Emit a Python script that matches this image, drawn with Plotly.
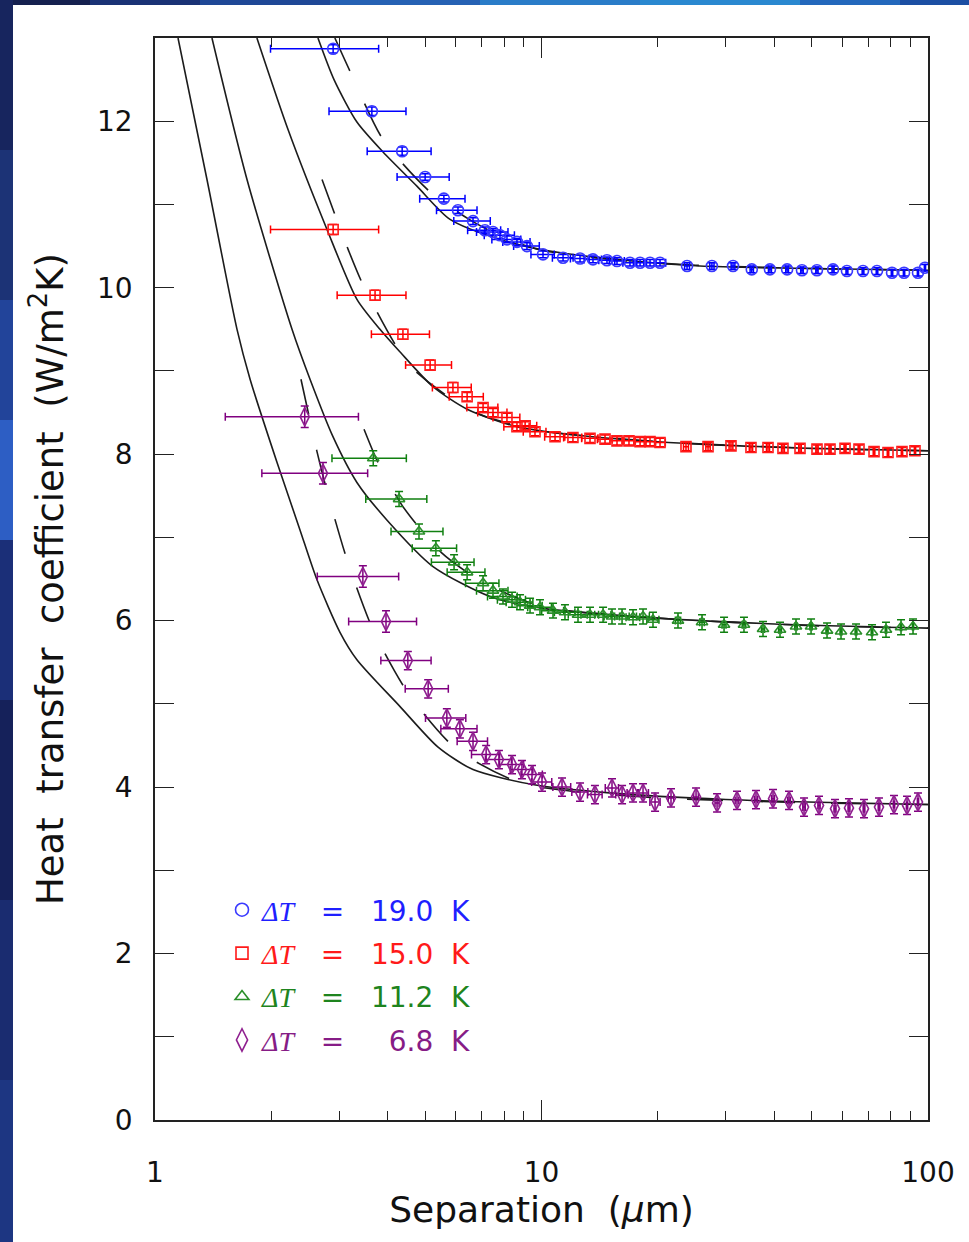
import plotly.graph_objects as go

# ---------------- data ----------------
# Delta T = 19.0 K  (blue circles)
x_b = [2.89, 3.64, 4.36, 5.00, 5.59, 6.08, 6.65, 7.14, 7.49, 7.81, 8.14, 8.64, 9.17, 10.09,
       11.37, 12.58, 13.59, 14.77, 15.68, 16.94, 17.99, 19.09, 20.26, 23.8, 27.6, 31.3, 35.0,
       39.0, 43.2, 47.2, 51.6, 56.8, 61.7, 67.9, 73.8, 80.7, 86.7, 94.2, 98.2]
y_b = [12.87, 12.12, 11.64, 11.33, 11.07, 10.93, 10.80, 10.69, 10.67, 10.63, 10.58, 10.55, 10.50,
       10.40, 10.36, 10.35, 10.34, 10.33, 10.32, 10.30, 10.30, 10.30, 10.30, 10.26, 10.26, 10.26,
       10.22, 10.22, 10.22, 10.21, 10.21, 10.22, 10.20, 10.20, 10.20, 10.18, 10.18, 10.18, 10.24]
xe_b = [0.90, 0.82, 0.82, 0.77, 0.75, 0.73, 0.72] + [0.70] * 16 + [0.35] * 16
ye_b = [0.05] * 3 + [0.04] * 36

# Delta T = 15.0 K  (red squares)
x_r = [2.89, 3.71, 4.38, 5.15, 5.90, 6.42, 7.06, 7.49, 8.14, 8.64, 9.07, 9.62, 10.84, 12.06,
       13.35, 14.60, 15.68, 16.84, 17.99, 19.09, 20.26, 23.65, 26.97, 30.92, 34.83, 38.55, 42.15,
       46.65, 51.62, 55.78, 61.00, 66.30, 72.50, 78.80, 85.64, 92.55]
y_r = [10.70, 9.91, 9.44, 9.07, 8.80, 8.69, 8.56, 8.50, 8.44, 8.33, 8.34, 8.27, 8.21, 8.20, 8.19,
       8.18, 8.16, 8.16, 8.15, 8.15, 8.14, 8.09, 8.09, 8.10, 8.08, 8.08, 8.07, 8.07, 8.06, 8.06,
       8.07, 8.06, 8.03, 8.02, 8.03, 8.04]
xe_r = [0.90, 0.75, 0.75, 0.70, 0.68, 0.65, 0.65] + [0.65] * 14 + [0.35] * 15
ye_r = [0.06] * 5 + [0.05] * 31

# Delta T = 11.2 K  (green triangles)
x_g = [3.67, 4.28, 4.82, 5.33, 5.94, 6.42, 7.06, 7.49, 7.95, 8.39, 8.80, 9.34, 9.91, 10.71, 11.50,
       12.43, 13.35, 14.43, 15.22, 16.16, 17.25, 18.31, 19.43, 22.55, 26.02, 29.67, 33.41, 37.42,
       41.41, 45.55, 49.82, 54.80, 59.56, 65.13, 71.64, 77.86, 85.15, 91.47]
y_g = [7.95, 7.46, 7.07, 6.87, 6.70, 6.58, 6.45, 6.36, 6.29, 6.25, 6.22, 6.18, 6.16, 6.12, 6.10,
       6.07, 6.07, 6.07, 6.05, 6.05, 6.04, 6.05, 6.01, 6.00, 5.98, 5.95, 5.95, 5.90, 5.89, 5.93,
       5.93, 5.88, 5.87, 5.87, 5.86, 5.89, 5.92, 5.93]
xe_g = [0.80, 0.77, 0.74, 0.70, 0.75, 0.72, 0.70] + [0.70] * 16 + [0.35] * 15
ye_g = [0.09] * 38

# Delta T = 6.8 K  (purple diamonds)
x_p = [2.44, 2.72, 3.45, 3.96, 4.51, 5.09, 5.69, 6.15, 6.65, 7.19, 7.76, 8.39, 8.90, 9.45, 10.03,
       11.30, 12.58, 13.75, 15.22, 16.16, 17.25, 18.31, 19.67, 21.63, 25.11, 28.46, 32.05, 35.89,
       39.72, 43.69, 47.78, 52.24, 57.46, 62.45, 68.30, 74.68, 81.66, 88.25, 94.21]
y_p = [8.45, 7.77, 6.53, 5.99, 5.52, 5.18, 4.83, 4.70, 4.55, 4.39, 4.33, 4.27, 4.21, 4.15, 4.06,
       4.00, 3.94, 3.91, 3.99, 3.91, 3.93, 3.93, 3.82, 3.87, 3.88, 3.81, 3.84, 3.85, 3.86, 3.84,
       3.76, 3.78, 3.74, 3.75, 3.74, 3.76, 3.79, 3.78, 3.82]
xe_p = [0.92, 0.83, 0.82, 0.79, 0.67, 0.65, 0.68, 0.66, 0.60, 0.60] + [0.60] * 13 + [0.35] * 16
ye_p = [0.13] * 4 + [0.11] * 35

# theory curves, solid
sb_x = [2.64, 2.905, 3.33, 3.89, 4.76, 5.80, 7.81, 10.5, 17.2, 25.7, 50, 100]
sb_y = [13.0, 12.50, 11.99, 11.63, 11.22, 10.82, 10.58, 10.44, 10.32, 10.26, 10.23, 10.21]
sr_x = [1.835, 2.209, 2.786, 3.33, 3.82, 4.30, 5.24, 6.42, 8.64, 14.2, 25.7, 50, 100]
sr_y = [13.0, 11.90, 10.70, 9.86, 9.50, 9.23, 8.81, 8.54, 8.33, 8.20, 8.12, 8.07, 8.04]
sg_x = [1.404, 1.730, 2.262, 2.518, 2.887, 3.33, 3.98, 5.24, 7.36, 10, 20, 40, 100]
sg_y = [13.0, 11.30, 9.50, 8.90, 8.21, 7.66, 7.21, 6.65, 6.29, 6.15, 6.03, 5.96, 5.91]
sp_x = [1.147, 1.363, 1.630, 1.762, 2.069, 2.372, 2.625, 3.01, 3.33, 4.30, 5.40, 6.65, 9.5,
        15, 30, 60, 100]
sp_y = [13.0, 11.30, 9.50, 8.90, 7.90, 7.09, 6.49, 5.86, 5.53, 4.97, 4.48, 4.21, 4.03,
        3.93, 3.85, 3.81, 3.79]

# theory curves, dashed
db_x = [2.92, 3.196, 3.89, 5.15, 6.5, 8.0, 10, 15, 25, 50, 100]
db_y = [13.0, 12.60, 11.78, 11.15, 10.82, 10.60, 10.45, 10.34, 10.27, 10.23, 10.21]
dr_x = [2.705, 2.92, 3.16, 3.45, 4.49, 5.5, 7, 10, 20, 50, 100]
dr_y = [11.30, 10.88, 10.46, 10.04, 9.10, 8.75, 8.47, 8.28, 8.15, 8.07, 8.04]
dg_x = [3.474, 3.776, 4.38, 5.5, 7, 10, 20, 50, 100]
dg_y = [8.30, 7.90, 7.37, 6.82, 6.47, 6.17, 6.03, 5.94, 5.91]
dp_x = [2.386, 2.625, 2.77, 3.14, 3.665, 4.515, 6.04, 8.8, 12, 20, 50, 100]
dp_y = [8.90, 8.03, 7.60, 6.73, 5.89, 5.13, 4.45, 4.05, 3.95, 3.87, 3.81, 3.79]

labels = ["19.0", "15.0", "11.2", "\u20076.8"]
x_ticks = [1, 10, 100]
x_minor = [2, 3, 4, 5, 6, 7, 8, 9, 20, 30, 40, 50, 60, 70, 80, 90]
y_ticks = [0, 2, 4, 6, 8, 10, 12]
y_minor = [1, 3, 5, 7, 9, 11]

# ---------------- figure ----------------
fig = go.Figure()

LINE = "#1c1c1c"
for cx, cy in [(sb_x, sb_y), (sr_x, sr_y), (sg_x, sg_y), (sp_x, sp_y)]:
    fig.add_trace(go.Scatter(x=cx, y=cy, mode="lines", showlegend=False, hoverinfo="skip",
                             line=dict(color=LINE, width=1.6, shape="spline", smoothing=0.7)))
for cx, cy in [(db_x, db_y), (dr_x, dr_y), (dg_x, dg_y), (dp_x, dp_y)]:
    fig.add_trace(go.Scatter(x=cx, y=cy, mode="lines", showlegend=False, hoverinfo="skip",
                             line=dict(color=LINE, width=1.6, shape="spline", smoothing=0.7,
                                       dash="36px,36px")))

series = [
    (x_b, y_b, xe_b, ye_b, "circle-open", 11, 13, "#3a3aff", "#0000ff", "#1f1fff", labels[0]),
    (x_r, y_r, xe_r, ye_r, "square-open", 10, 12, "#ff1a1a", "#ff0000", "#ff1a1a", labels[1]),
    (x_g, y_g, xe_g, ye_g, "triangle-up-open", 10, 12, "#2a8f2a", "#108010", "#1e841e", labels[2]),
    (x_p, y_p, xe_p, ye_p, "diamond-tall-open", 13, 16, "#8f1f8f", "#800080", "#861c86", labels[3]),
]
SP3 = "\u00a0\u00a0\u00a0"
for i, (sx, sy, sxe, sye, sym, size, lsize, mc, ec, tc, lab) in enumerate(series):
    fig.add_trace(go.Scatter(
        x=sx, y=sy, mode="markers", showlegend=False, hoverinfo="x+y",
        marker=dict(symbol=sym, size=size, color=mc, line=dict(width=1.6, color=mc)),
        error_x=dict(type="data", array=sxe, color=ec, thickness=1.5, width=4),
        error_y=dict(type="data", array=sye, color=ec, thickness=1.5, width=4),
    ))
    name = ("<span style=\"color:%s\"><span style=\"font-family:Liberation Serif\"><i>\u0394T</i></span>"
            "%s=%s%s\u00a0\u00a0K</span>") % (tc, SP3, SP3, lab)
    # legend entry for the series
    fig.add_trace(go.Scatter(
        x=[None], y=[None], mode="markers", name=name, legendgroup="g%d" % i,
        marker=dict(symbol=sym, size=lsize, color=mc, line=dict(width=1.6, color=mc)),
    ))

# slide background strips (decoration)
W, H = 969, 1242
L, R, T, B = 155, 41, 38, 122
pw, ph = W - L - R, H - T - B
def px2paper(px, py):
    return (px - L) / pw, (H - B - py) / ph

shapes = []
top_cols = [(0, 90, "#15214f"), (90, 200, "#1a3275"), (200, 330, "#1f4896"), (330, 480, "#2662b4"),
            (480, 640, "#2a7cc8"), (640, 800, "#2a88d0"), (800, 900, "#2368bc"), (900, 969, "#1c4fa3")]
for a, b, c in top_cols:
    x0, y0 = px2paper(a, 5)
    x1, y1 = px2paper(b, 0)
    shapes.append(dict(type="rect", xref="paper", yref="paper", x0=x0, x1=x1, y0=y0, y1=y1,
                       fillcolor=c, line=dict(width=0), layer="below"))
left_cols = [(0, 150, "#17255e"), (150, 300, "#1c3376"), (300, 420, "#22449a"), (420, 540, "#2d5ec4"),
             (540, 700, "#1b2f78"), (700, 900, "#15215a"), (900, 1080, "#1a2c70"), (1080, 1242, "#1d3682")]
for a, b, c in left_cols:
    x0, y0 = px2paper(0, b)
    x1, y1 = px2paper(13, a)
    shapes.append(dict(type="rect", xref="paper", yref="paper", x0=x0, x1=x1, y0=y0, y1=y1,
                       fillcolor=c, line=dict(width=0), layer="below"))

FONT = "DejaVu Sans"
AX = "#222222"
lx, ly = px2paper(222, 885)
fig.update_layout(
    width=W, height=H,
    margin=dict(l=L, r=R, t=T, b=B, autoexpand=False),
    paper_bgcolor="white", plot_bgcolor="white",
    font=dict(family=FONT, color="#111111"),
    shapes=shapes,
    showlegend=True,
    legend=dict(x=lx, y=ly, xanchor="left", yanchor="top", bgcolor="rgba(0,0,0,0)",
                font=dict(family=FONT, size=28), traceorder="grouped", tracegroupgap=4,
                itemsizing="trace"),
    xaxis=dict(type="log", range=[0, 2], tickmode="array", tickvals=x_ticks,
               ticktext=[str(v) for v in x_ticks], ticks="inside", ticklen=20, tickwidth=1.4,
               tickcolor=AX, showline=True, linecolor=AX, linewidth=1.6, mirror="ticks",
               showgrid=False, zeroline=False, ticklabelstandoff=27,
               tickfont=dict(family=FONT, size=28, color="#111111"),
               minor=dict(tickmode="array", tickvals=x_minor, ticks="inside", ticklen=9,
                          tickwidth=1.2, tickcolor=AX, showgrid=False),
               title=dict(text="Separation\u00a0\u00a0(<i>\u03bc</i>m)", standoff=6,
                          font=dict(family=FONT, size=36, color="#111111"))),
    yaxis=dict(range=[0, 13], tickmode="array", tickvals=y_ticks,
               ticktext=[str(v) for v in y_ticks], ticks="inside",
               ticklen=19, tickwidth=1.4, tickcolor=AX, showline=True, linecolor=AX,
               linewidth=1.6, mirror="ticks", showgrid=False, zeroline=False,
               ticklabelstandoff=15, tickfont=dict(family=FONT, size=28, color="#111111"),
               minor=dict(tickmode="array", tickvals=y_minor, ticks="inside", ticklen=19,
                          tickwidth=1.4, tickcolor=AX, showgrid=False),
               title=dict(text="Heat\u00a0\u00a0transfer\u00a0\u00a0coefficient\u00a0\u00a0(W/m<sup>2</sup>K)",
                          standoff=22, font=dict(family=FONT, size=37, color="#111111"))),
)

fig.write_html("out.html")
